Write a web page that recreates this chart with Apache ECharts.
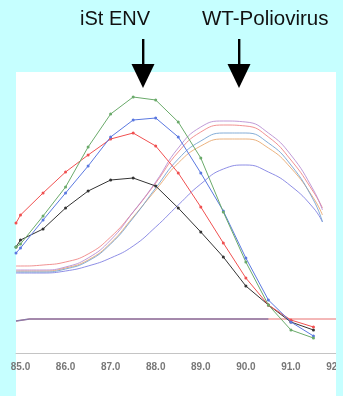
<!DOCTYPE html>
<html>
<head>
<meta charset="utf-8">
<script src="https://cdn.jsdelivr.net/npm/echarts@6/dist/echarts.min.js"></script>
<style>
  html, body { margin: 0; padding: 0; background: #c6ffff; }
  #panel { position: absolute; left: 16px; top: 72px; width: 320px; height: 324px; background: #fff; }
  #chart { position: absolute; left: 0; top: 0; width: 336px; height: 396px; }
</style>
</head>
<body>
<div id="panel"></div>
<div id="chart"></div>
<script>
// temperature (°C) sample points
const tempsEnv = [84.9, 85.0, 85.5, 86.0, 86.5, 87.0, 87.5, 88.0, 88.5, 89.0, 89.5, 90.0, 90.5, 91.0, 91.5]
const tempsWt = [84.9, 85.0, 85.5, 86.0, 86.5, 87.0, 87.5, 88.0, 88.5, 89.0, 89.5, 90.0, 90.5, 91.0, 91.5, 91.7]
const xTicks = [85, 86, 87, 88, 89, 90, 91, 92]

// iSt ENV melt peaks (with markers)
const envGreen = [106, 109, 137, 166, 206, 239, 256, 253, 231, 195, 141, 91, 48, 23, 15]
const envBlue = [100, 105, 133, 160, 187, 216, 233, 235, 216, 180, 142, 95, 53, 31, 17]
const envRed = [130, 138, 160, 181, 198, 214, 220, 207, 180, 146, 110, 75, 48, 33, 26]
const envBlack = [106, 113, 124, 145, 162, 173, 175, 167, 145, 121, 96, 67, 48, 31, 23]

// WT-Poliovirus melt peaks (smooth)
const wtPurple = [83, 83, 83, 86, 95, 113, 141, 171, 205, 226, 232, 231, 220, 198, 163, 143]
const wtPink = [87, 87, 88, 91, 99, 116, 141, 170, 201, 221, 228, 227, 216, 193, 161, 145]
const wtLightBlue = [81, 81, 81, 84, 92, 109, 135, 165, 194, 212, 220, 220, 210, 188, 153, 131]
const wtOrange = [82, 82, 82, 85, 93, 110, 136, 163, 190, 207, 214, 214, 205, 185, 155, 138]
const wtBlue = [80, 80, 80, 82, 87, 95, 107, 126, 148, 169, 184, 188, 181, 167, 145, 131]

// baseline (no template)
const flatTemps = [84.9, 85.2, 92.0]
const flatRed = [32, 34, 34]
const flatPurpleTemps = [84.9, 85.2, 90.5]
const flatPurple = [32, 34, 34]

const zip = (xs, ys) => ys.map((y, i) => [xs[i], y])

function envSeries(data, color) {
  return {
    type: 'line',
    data: zip(tempsEnv, data),
    symbol: 'circle',
    symbolSize: 3,
    showSymbol: true,
    lineStyle: { color, width: 1 },
    itemStyle: { color },
    z: 4,
  }
}

function wtSeries(data, color) {
  return {
    type: 'line',
    data: zip(tempsWt, data),
    smooth: true,
    showSymbol: false,
    lineStyle: { color, width: 1, opacity: 0.85 },
    z: 3,
  }
}

function arrow(x) {
  return [
    { type: 'rect', shape: { x: x - 1, y: 39, width: 2.4, height: 26 }, style: { fill: '#000' } },
    { type: 'polygon', shape: { points: [[x - 11.5, 64], [x + 11.5, 64], [x, 88]] }, style: { fill: '#000' } },
  ]
}

const chart = echarts.init(document.getElementById('chart'))
chart.setOption({
  animation: false,
  backgroundColor: 'transparent',
  grid: { left: 16, right: 0, top: 73, bottom: 43, outerBoundsMode: 'none', containLabel: false },
  xAxis: {
    type: 'value',
    min: 84.9,
    max: 92.0,
    interval: 1,
    axisLine: { show: true, lineStyle: { color: '#c4c4c4', width: 1 } },
    axisTick: { show: false },
    splitLine: { show: false },
    axisLabel: {
      fontSize: 10,
      fontWeight: 'bold',
      color: '#777',
      margin: 9,
      customValues: xTicks,
      formatter: (v) => v.toFixed(1),
    },
  },
  yAxis: {
    type: 'value',
    min: 0,
    max: 280,
    show: false,
  },
  graphic: [
    { type: 'text', left: 117 - 37, top: 9, style: { text: 'iSt ENV', font: '20px "Liberation Sans", Arial, sans-serif', fill: '#111' } },
    { type: 'text', left: 268 - 66, top: 9, style: { text: 'WT-Poliovirus', font: '20.5px "Liberation Sans", Arial, sans-serif', fill: '#111' } },
    ...arrow(143),
    ...arrow(239),
  ],
  series: [
    { type: 'line', data: zip(flatTemps, flatRed), showSymbol: false, lineStyle: { color: '#e87070', width: 1 }, z: 2 },
    { type: 'line', data: zip(flatPurpleTemps, flatPurple), showSymbol: false, lineStyle: { color: '#8a7aa8', width: 1.3 }, z: 2 },
    wtSeries(wtBlue, '#7a7ae0'),
    wtSeries(wtOrange, '#e8a468'),
    wtSeries(wtLightBlue, '#6f9fd0'),
    wtSeries(wtPink, '#ee7f7f'),
    wtSeries(wtPurple, '#b58ad0'),
    envSeries(envBlack, '#333333'),
    envSeries(envRed, '#f05050'),
    envSeries(envBlue, '#5a78e0'),
    envSeries(envGreen, '#6aaa6a'),
  ],
})
</script>
</body>
</html>
